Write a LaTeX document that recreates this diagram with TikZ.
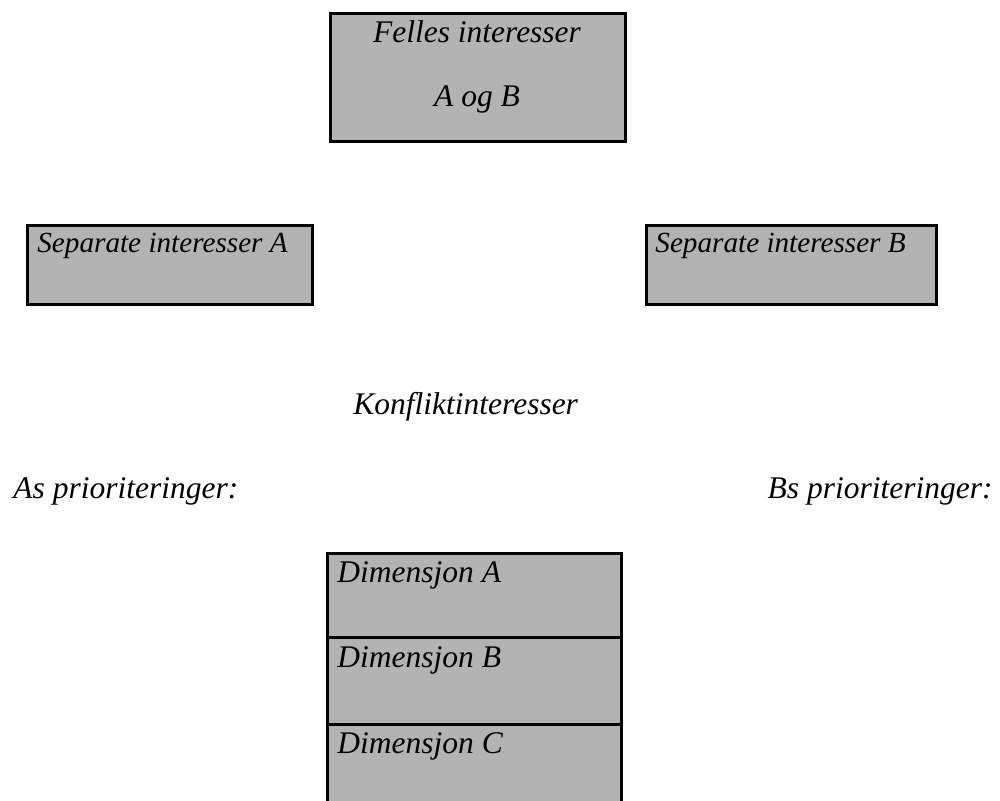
\documentclass[tikz,border=0pt]{standalone}
\usepackage{fontspec}
\setmainfont{Liberation Serif}[ItalicFont={Liberation Serif Italic}]
\newfontfamily\labelfont{Liberation Serif Italic}
\begin{document}
\begin{tikzpicture}[x=0.5pt,y=-0.5pt,
  box/.style={draw=black,line width=1.5pt,fill=boxgray,inner sep=0pt,outer sep=0pt},
  lbl/.style={inner sep=0pt,font=\labelfont\fontsize{15.75pt}{18pt}\selectfont},
  smalllbl/.style={inner sep=0pt,font=\labelfont\fontsize{14.6pt}{17pt}\selectfont}]
\definecolor{boxgray}{RGB}{179,179,179}
\useasboundingbox (0,0) rectangle (1000,801);
% boxes
\node[box,anchor=north west,minimum width=295*0.5pt,minimum height=128*0.5pt] (common) at (330,14) {};
\node[box,anchor=north west,minimum width=285*0.5pt,minimum height=79*0.5pt] (sepA) at (27,226) {};
\node[box,anchor=north west,minimum width=290*0.5pt,minimum height=79*0.5pt] (sepB) at (646,226) {};
\node[box,anchor=north west,minimum width=294*0.5pt,minimum height=84*0.5pt] (dimA) at (327,553) {};
\node[box,anchor=north west,minimum width=294*0.5pt,minimum height=87*0.5pt] (dimB) at (327,637) {};
\node[box,anchor=north west,minimum width=294*0.5pt,minimum height=90*0.5pt] (dimC) at (327,724) {};
% texts
\node[lbl,anchor=base] (t1) at (477,43) {Felles interesser};
\node[lbl,anchor=base] (t2) at (477,107) {A og B};
\node[smalllbl,anchor=base west] (tA) at (37,253) {Separate interesser A};
\node[smalllbl,anchor=base west] (tB) at (655,253) {Separate interesser B};
\node[lbl,anchor=base west] (konf) at (353,415) {Konfliktinteresser};
\node[lbl,anchor=base west] (prA) at (13,498) {As prioriteringer:};
\node[lbl,anchor=base east] (prB) at (993,498) {Bs prioriteringer:};
\node[lbl,anchor=base west] (dA) at (337,582) {Dimensjon A};
\node[lbl,anchor=base west] (dB) at (337,667) {Dimensjon B};
\node[lbl,anchor=base west] (dC) at (337,753) {Dimensjon C};
\end{tikzpicture}
\end{document}
